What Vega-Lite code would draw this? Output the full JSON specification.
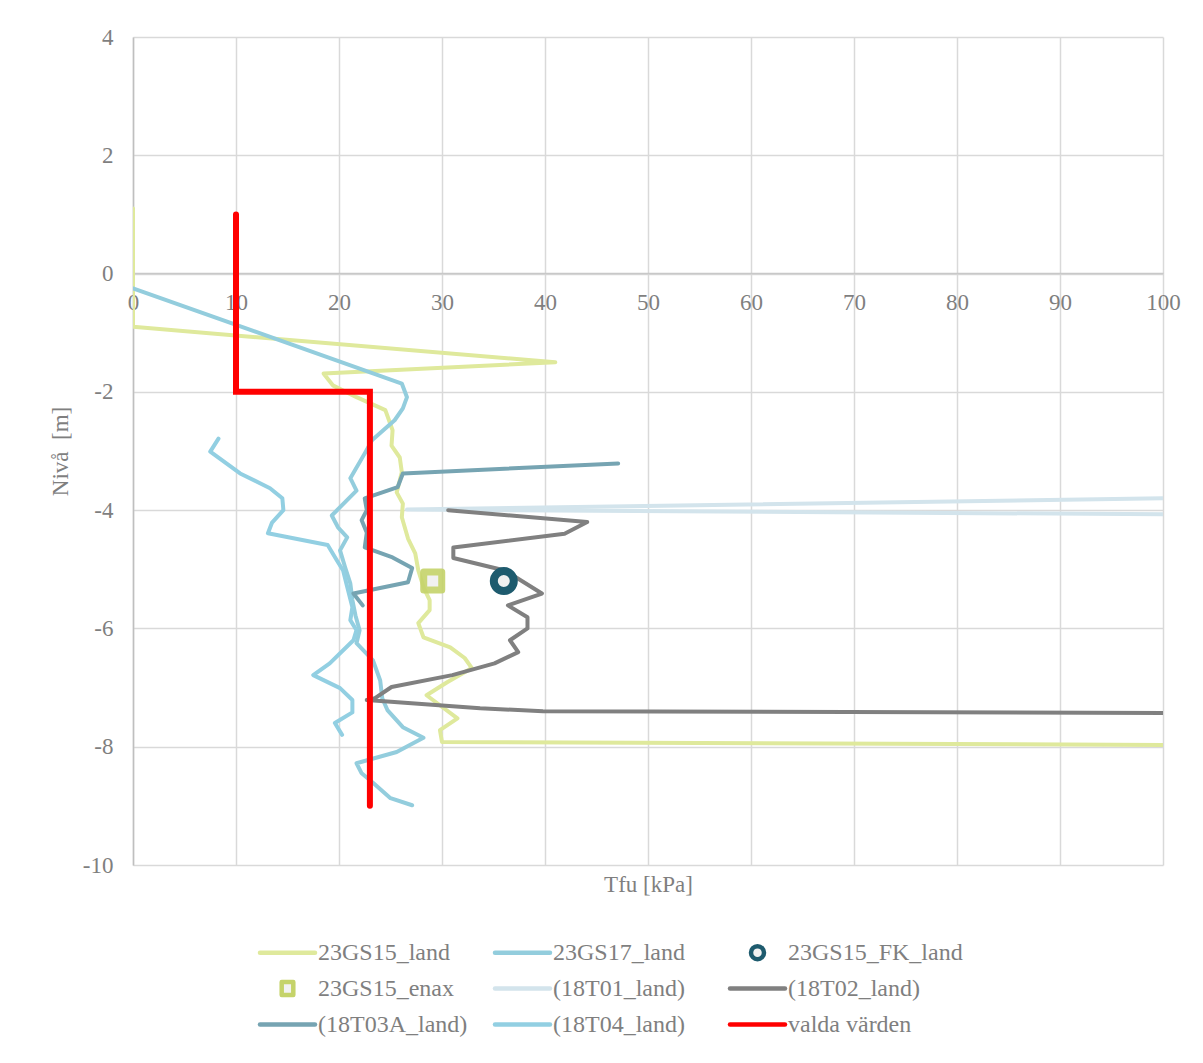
{
  "$schema": "https://vega.github.io/schema/vega-lite/v6.json",
  "autosize": "none",
  "width": 1030,
  "height": 828,
  "padding": {"left": 133, "top": 37, "right": 40, "bottom": 198},
  "background": "white",
  "config": {
    "font": "Liberation Serif",
    "view": {"stroke": null},
    "axis": {
      "labelFont": "Liberation Serif",
      "titleFont": "Liberation Serif",
      "labelColor": "#7f7f7f",
      "titleColor": "#7f7f7f",
      "labelFontSize": 23,
      "titleFontSize": 23,
      "titleFontWeight": "normal",
      "gridColor": "#d9d9d9",
      "gridWidth": 1.5,
      "domainColor": "#bfbfbf",
      "domainWidth": 1.5,
      "ticks": false,
      "tickSize": 0
    }
  },
  "datasets": {
    "curves": [
      {"s": "23GS15_land", "i": 1, "x": 0, "y": 1.1},
      {"s": "23GS15_land", "i": 2, "x": 0, "y": -0.9},
      {"s": "23GS15_land", "i": 3, "x": 41.0, "y": -1.5},
      {"s": "23GS15_land", "i": 4, "x": 18.5, "y": -1.69},
      {"s": "23GS15_land", "i": 5, "x": 19.4, "y": -1.89},
      {"s": "23GS15_land", "i": 6, "x": 21.7, "y": -2.09},
      {"s": "23GS15_land", "i": 7, "x": 24.5, "y": -2.31},
      {"s": "23GS15_land", "i": 8, "x": 25.2, "y": -2.65},
      {"s": "23GS15_land", "i": 9, "x": 25.1, "y": -2.91},
      {"s": "23GS15_land", "i": 10, "x": 25.9, "y": -3.11},
      {"s": "23GS15_land", "i": 11, "x": 26.1, "y": -3.36},
      {"s": "23GS15_land", "i": 12, "x": 25.6, "y": -3.7},
      {"s": "23GS15_land", "i": 13, "x": 26.2, "y": -3.89},
      {"s": "23GS15_land", "i": 14, "x": 26.1, "y": -4.12},
      {"s": "23GS15_land", "i": 15, "x": 26.7, "y": -4.48},
      {"s": "23GS15_land", "i": 16, "x": 27.4, "y": -4.73},
      {"s": "23GS15_land", "i": 17, "x": 27.7, "y": -5.02},
      {"s": "23GS15_land", "i": 18, "x": 28.2, "y": -5.3},
      {"s": "23GS15_land", "i": 19, "x": 28.8, "y": -5.52},
      {"s": "23GS15_land", "i": 20, "x": 28.8, "y": -5.69},
      {"s": "23GS15_land", "i": 21, "x": 27.7, "y": -5.91},
      {"s": "23GS15_land", "i": 22, "x": 28.2, "y": -6.15},
      {"s": "23GS15_land", "i": 23, "x": 30.8, "y": -6.32},
      {"s": "23GS15_land", "i": 24, "x": 32.2, "y": -6.5},
      {"s": "23GS15_land", "i": 25, "x": 32.9, "y": -6.67},
      {"s": "23GS15_land", "i": 26, "x": 30.5, "y": -6.91},
      {"s": "23GS15_land", "i": 27, "x": 28.5, "y": -7.13},
      {"s": "23GS15_land", "i": 28, "x": 31.5, "y": -7.52},
      {"s": "23GS15_land", "i": 29, "x": 29.8, "y": -7.72},
      {"s": "23GS15_land", "i": 30, "x": 30.0, "y": -7.92},
      {"s": "23GS15_land", "i": 31, "x": 100, "y": -7.97},

      {"s": "23GS17_land", "i": 1, "x": 0, "y": -0.25},
      {"s": "23GS17_land", "i": 2, "x": 26.1, "y": -1.86},
      {"s": "23GS17_land", "i": 3, "x": 26.6, "y": -2.09},
      {"s": "23GS17_land", "i": 4, "x": 26.2, "y": -2.28},
      {"s": "23GS17_land", "i": 5, "x": 25.4, "y": -2.48},
      {"s": "23GS17_land", "i": 6, "x": 23.2, "y": -2.82},
      {"s": "23GS17_land", "i": 7, "x": 22.5, "y": -3.04},
      {"s": "23GS17_land", "i": 8, "x": 21.1, "y": -3.46},
      {"s": "23GS17_land", "i": 9, "x": 21.7, "y": -3.67},
      {"s": "23GS17_land", "i": 10, "x": 19.3, "y": -4.09},
      {"s": "23GS17_land", "i": 11, "x": 19.9, "y": -4.29},
      {"s": "23GS17_land", "i": 12, "x": 20.8, "y": -4.46},
      {"s": "23GS17_land", "i": 13, "x": 20.1, "y": -4.68},
      {"s": "23GS17_land", "i": 14, "x": 20.6, "y": -4.97},
      {"s": "23GS17_land", "i": 15, "x": 21.1, "y": -5.24},
      {"s": "23GS17_land", "i": 16, "x": 21.3, "y": -5.52},
      {"s": "23GS17_land", "i": 17, "x": 21.6, "y": -5.78},
      {"s": "23GS17_land", "i": 18, "x": 22.0, "y": -6.03},
      {"s": "23GS17_land", "i": 19, "x": 21.7, "y": -6.25},
      {"s": "23GS17_land", "i": 20, "x": 23.3, "y": -6.54},
      {"s": "23GS17_land", "i": 21, "x": 24.0, "y": -6.88},
      {"s": "23GS17_land", "i": 22, "x": 24.2, "y": -7.18},
      {"s": "23GS17_land", "i": 23, "x": 24.7, "y": -7.38},
      {"s": "23GS17_land", "i": 24, "x": 26.2, "y": -7.67},
      {"s": "23GS17_land", "i": 25, "x": 28.2, "y": -7.85},
      {"s": "23GS17_land", "i": 26, "x": 25.6, "y": -8.09},
      {"s": "23GS17_land", "i": 27, "x": 21.7, "y": -8.28},
      {"s": "23GS17_land", "i": 28, "x": 22.2, "y": -8.45},
      {"s": "23GS17_land", "i": 29, "x": 23.3, "y": -8.61},
      {"s": "23GS17_land", "i": 30, "x": 25.0, "y": -8.87},
      {"s": "23GS17_land", "i": 31, "x": 27.1, "y": -8.99},

      {"s": "(18T01_land)", "i": 1, "x": 100, "y": -3.8},
      {"s": "(18T01_land)", "i": 2, "x": 26.6, "y": -3.99},
      {"s": "(18T01_land)", "i": 3, "x": 100, "y": -4.07},

      {"s": "(18T02_land)", "i": 1, "x": 30.6, "y": -4.0},
      {"s": "(18T02_land)", "i": 2, "x": 44.1, "y": -4.2},
      {"s": "(18T02_land)", "i": 3, "x": 41.9, "y": -4.4},
      {"s": "(18T02_land)", "i": 4, "x": 31.1, "y": -4.63},
      {"s": "(18T02_land)", "i": 5, "x": 31.1, "y": -4.81},
      {"s": "(18T02_land)", "i": 6, "x": 36.1, "y": -5.02},
      {"s": "(18T02_land)", "i": 7, "x": 39.7, "y": -5.41},
      {"s": "(18T02_land)", "i": 8, "x": 36.4, "y": -5.61},
      {"s": "(18T02_land)", "i": 9, "x": 38.3, "y": -5.81},
      {"s": "(18T02_land)", "i": 10, "x": 38.3, "y": -6.0},
      {"s": "(18T02_land)", "i": 11, "x": 36.6, "y": -6.2},
      {"s": "(18T02_land)", "i": 12, "x": 37.4, "y": -6.4},
      {"s": "(18T02_land)", "i": 13, "x": 35.1, "y": -6.59},
      {"s": "(18T02_land)", "i": 14, "x": 31.0, "y": -6.79},
      {"s": "(18T02_land)", "i": 15, "x": 25.1, "y": -6.99},
      {"s": "(18T02_land)", "i": 16, "x": 23.5, "y": -7.18},
      {"s": "(18T02_land)", "i": 17, "x": 22.7, "y": -7.21},
      {"s": "(18T02_land)", "i": 18, "x": 33.7, "y": -7.35},
      {"s": "(18T02_land)", "i": 19, "x": 39.8, "y": -7.4},
      {"s": "(18T02_land)", "i": 20, "x": 100, "y": -7.43},

      {"s": "(18T03A_land)", "i": 1, "x": 47.1, "y": -3.21},
      {"s": "(18T03A_land)", "i": 2, "x": 26.2, "y": -3.38},
      {"s": "(18T03A_land)", "i": 3, "x": 25.7, "y": -3.61},
      {"s": "(18T03A_land)", "i": 4, "x": 22.5, "y": -3.8},
      {"s": "(18T03A_land)", "i": 5, "x": 22.7, "y": -4.0},
      {"s": "(18T03A_land)", "i": 6, "x": 22.2, "y": -4.17},
      {"s": "(18T03A_land)", "i": 7, "x": 22.7, "y": -4.38},
      {"s": "(18T03A_land)", "i": 8, "x": 22.5, "y": -4.63},
      {"s": "(18T03A_land)", "i": 9, "x": 25.2, "y": -4.8},
      {"s": "(18T03A_land)", "i": 10, "x": 27.1, "y": -4.98},
      {"s": "(18T03A_land)", "i": 11, "x": 26.7, "y": -5.22},
      {"s": "(18T03A_land)", "i": 12, "x": 21.4, "y": -5.41},
      {"s": "(18T03A_land)", "i": 13, "x": 22.3, "y": -5.61},

      {"s": "(18T04_land)", "i": 1, "x": 8.3, "y": -2.79},
      {"s": "(18T04_land)", "i": 2, "x": 7.5, "y": -3.01},
      {"s": "(18T04_land)", "i": 3, "x": 10.4, "y": -3.38},
      {"s": "(18T04_land)", "i": 4, "x": 13.3, "y": -3.63},
      {"s": "(18T04_land)", "i": 5, "x": 14.5, "y": -3.8},
      {"s": "(18T04_land)", "i": 6, "x": 14.6, "y": -4.0},
      {"s": "(18T04_land)", "i": 7, "x": 13.5, "y": -4.21},
      {"s": "(18T04_land)", "i": 8, "x": 13.1, "y": -4.39},
      {"s": "(18T04_land)", "i": 9, "x": 18.9, "y": -4.59},
      {"s": "(18T04_land)", "i": 10, "x": 19.8, "y": -4.85},
      {"s": "(18T04_land)", "i": 11, "x": 20.4, "y": -5.02},
      {"s": "(18T04_land)", "i": 12, "x": 20.8, "y": -5.3},
      {"s": "(18T04_land)", "i": 13, "x": 21.3, "y": -5.64},
      {"s": "(18T04_land)", "i": 14, "x": 21.1, "y": -5.86},
      {"s": "(18T04_land)", "i": 15, "x": 21.7, "y": -6.03},
      {"s": "(18T04_land)", "i": 16, "x": 21.4, "y": -6.2},
      {"s": "(18T04_land)", "i": 17, "x": 19.1, "y": -6.59},
      {"s": "(18T04_land)", "i": 18, "x": 17.5, "y": -6.79},
      {"s": "(18T04_land)", "i": 19, "x": 20.1, "y": -7.01},
      {"s": "(18T04_land)", "i": 20, "x": 21.3, "y": -7.21},
      {"s": "(18T04_land)", "i": 21, "x": 21.3, "y": -7.42},
      {"s": "(18T04_land)", "i": 22, "x": 19.6, "y": -7.6},
      {"s": "(18T04_land)", "i": 23, "x": 20.3, "y": -7.8}
    ],
    "chosen": [
      {"s": "valda värden", "i": 1, "x": 10, "y": 1.0},
      {"s": "valda värden", "i": 2, "x": 10, "y": -2.0},
      {"s": "valda värden", "i": 3, "x": 23, "y": -2.0},
      {"s": "valda värden", "i": 4, "x": 23, "y": -9.0}
    ],
    "singles": [
      {"s": "23GS15_FK_land", "x": 36.0, "y": -5.2},
      {"s": "23GS15_enax", "x": 29.1, "y": -5.2}
    ]
  },
  "encoding": {
    "x": {
      "field": "x", "type": "quantitative",
      "scale": {"domain": [0, 100], "nice": false, "zero": false},
      "axis": {
        "title": "Tfu [kPa]",
        "values": [0, 10, 20, 30, 40, 50, 60, 70, 80, 90, 100],
        "offset": -592,
        "labelPadding": 18,
        "labelOverlap": false,
        "labelFlush": false,
        "titleY": 611,
        "titleBaseline": "middle",
        "domainColor": "#c8c8c8"
      }
    },
    "y": {
      "field": "y", "type": "quantitative",
      "scale": {"domain": [-10, 4], "nice": false, "zero": false},
      "axis": {
        "title": "Nivå\u00a0 [m]",
        "values": [-10, -8, -6, -4, -2, 0, 2, 4],
        "labelExpr": "'' + datum.value",
        "labelPadding": 20,
        "titleX": -73,
        "titleBaseline": "middle",
        "titleY": 414
      }
    },
    "color": {
      "field": "s", "type": "nominal",
      "scale": {
        "domain": ["23GS15_land", "23GS17_land", "23GS15_FK_land", "23GS15_enax", "(18T01_land)", "(18T02_land)", "(18T03A_land)", "(18T04_land)", "valda värden"],
        "range": ["#dfe99c", "#93cddd", "#1e5b6e", "#c5d36a", "#d3e4ec", "#808080", "#76a4b2", "#92cfe2", "#ff0000"]
      },
      "legend": {
        "title": null,
        "orient": "none",
        "legendX": 127,
        "legendY": 903,
        "direction": "horizontal",
        "columns": 3,
        "gridAlign": "all",
        "columnPadding": -1,
        "rowPadding": 7,
        "padding": 0,
        "labelFont": "Liberation Serif",
        "labelFontSize": 24,
        "labelColor": "#7f7f7f",
        "labelOffset": 33,
        "labelLimit": 300,
        "symbolType": "stroke",
        "symbolSize": 400,
        "symbolStrokeWidth": 4.5,
        "encode": {
          "symbols": {
            "update": {
              "shape": {"signal": "datum.value === '23GS15_FK_land' ? 'M1.5,-1.2M1.5,1.2M1.5,-0.65A0.65,0.65 0 1,1 1.5,0.65A0.65,0.65 0 1,1 1.5,-0.65Z' : datum.value === '23GS15_enax' ? 'M1.5,-1.2M1.5,1.2M0.92,-0.64H2.08V0.64H0.92Z' : 'M1.5,-1.2M1.5,1.2M-1.25,0L4.25,0'"},
              "fill": {"signal": "datum.value === '23GS15_FK_land' || datum.value === '23GS15_enax' ? '#f2f2f2' : 'transparent'"},
              "stroke": {"signal": "scale('color', datum.value)"},
              "strokeCap": {"value": "round"},
              "strokeJoin": {"value": "round"},
              "opacity": {"value": 1}
            }
          }
        }
      }
    }
  },
  "layer": [
    {
      "data": {"name": "curves"},
      "mark": {"type": "line", "strokeWidth": 4, "strokeCap": "round", "strokeJoin": "round", "clip": true},
      "encoding": {"order": {"field": "i", "type": "quantitative"}}
    },
    {
      "data": {"name": "singles"},
      "transform": [{"filter": "datum.s === '23GS15_FK_land'"}],
      "mark": {"type": "point", "shape": "circle", "filled": false, "fill": "#f0f0f0", "fillOpacity": 1, "strokeWidth": 8, "size": 400, "opacity": 1}
    },
    {
      "data": {"name": "singles"},
      "transform": [{"filter": "datum.s === '23GS15_enax'"}],
      "mark": {"type": "point", "shape": "square", "filled": false, "fill": "#f0f0f0", "fillOpacity": 1, "strokeWidth": 7, "strokeJoin": "round", "size": 324, "opacity": 0.9}
    },
    {
      "data": {"name": "chosen"},
      "mark": {"type": "line", "strokeWidth": 6, "strokeCap": "round", "strokeJoin": "miter"},
      "encoding": {"order": {"field": "i", "type": "quantitative"}}
    }
  ]
}
